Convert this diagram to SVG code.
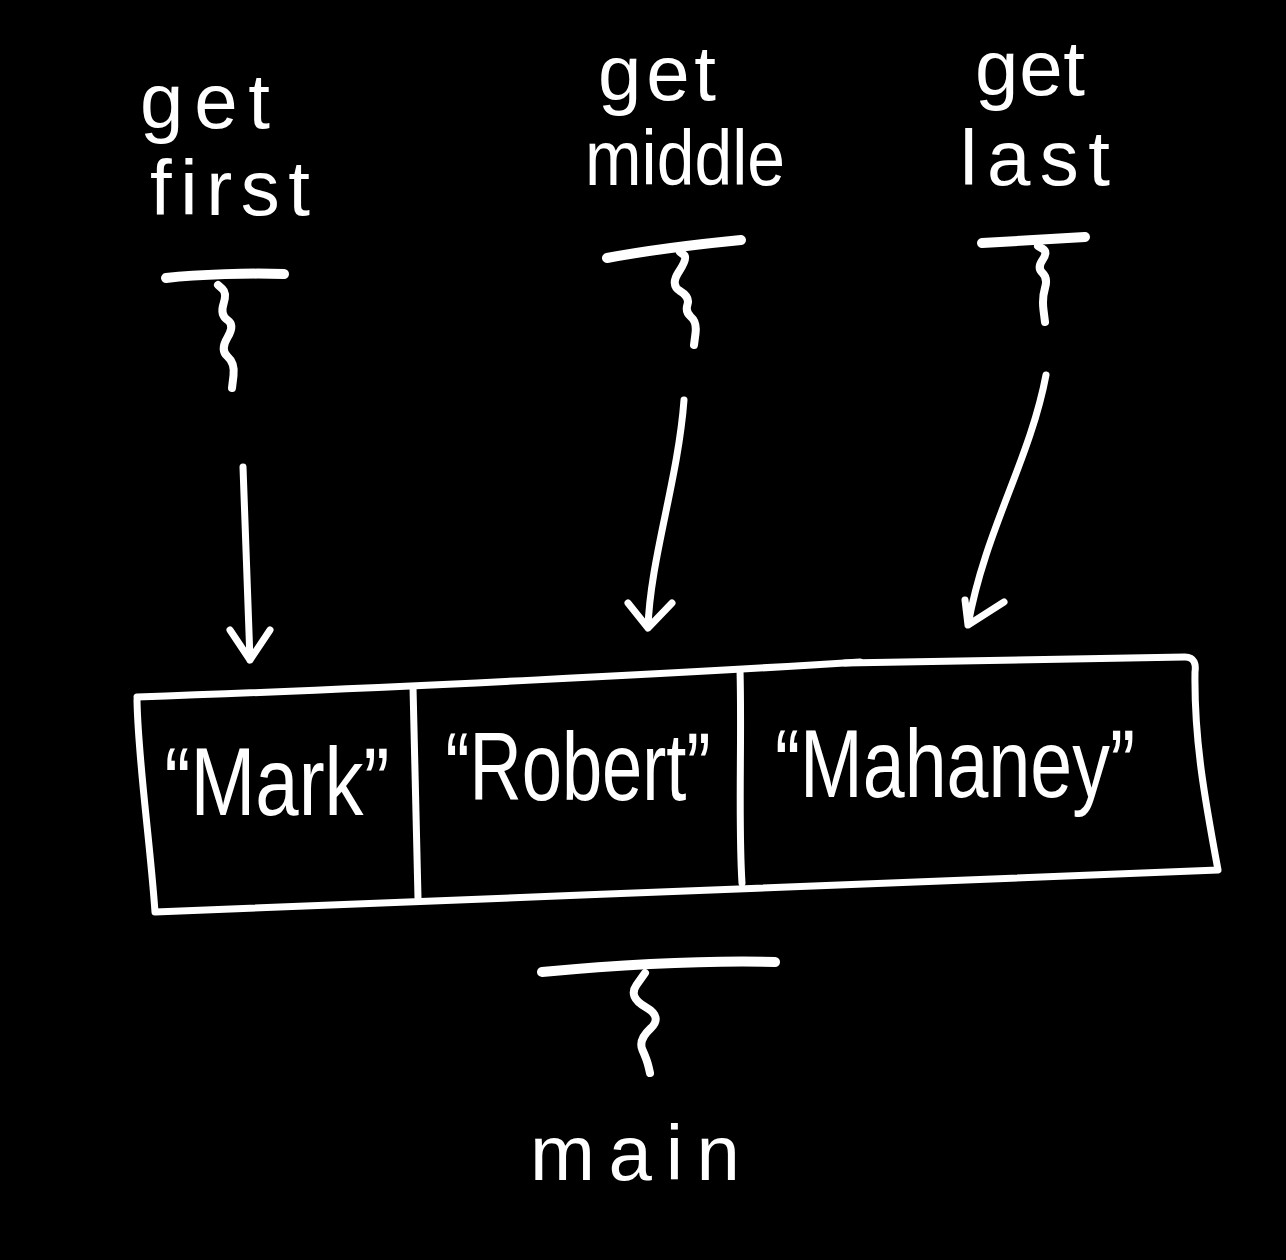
<svg xmlns="http://www.w3.org/2000/svg" width="1286" height="1260" viewBox="0 0 1286 1260">
<style>
.s{fill:none;stroke:#fff;stroke-width:7;stroke-linecap:round;stroke-linejoin:round}
.w{fill:none;stroke:#fff;stroke-width:8;stroke-linecap:round;stroke-linejoin:round}
.b{fill:none;stroke:#fff;stroke-width:10;stroke-linecap:round;stroke-linejoin:round}
.t{fill:#fff;font-family:"Liberation Sans",Arial,sans-serif;font-size:78px}
.c{fill:#fff;font-family:"Liberation Sans",Arial,sans-serif;font-size:96px}
</style>
<rect width="1286" height="1260" fill="#000"/>
<g id="first">
<text class="t" x="205" y="128" text-anchor="middle" textLength="130">get</text>
<text class="t" x="230" y="215" text-anchor="middle" textLength="160">first</text>
<path class="b" d="M166,278 C200,274 250,273 284,274"/>
<path class="w" d="M218,285 L222.5,289 Q227,293 223.5,304 Q220,315 227.5,320 Q235,325 227.5,337.5 Q220,350 227.5,356.5 Q235,363 233.5,375.5 L232,388"/>
</g>
<g id="middle">
<text class="t" x="657" y="100" text-anchor="middle" textLength="118">get</text>
<text class="t" x="685" y="185" text-anchor="middle" textLength="200" lengthAdjust="spacingAndGlyphs">middle</text>
<path class="b" d="M607,258 C650,250 700,244 741,240"/>
<path class="w" d="M680,252 L684,255 Q688,258 679,271.5 Q670,285 680,291 Q690,297 687.5,304.5 Q685,312 691,317 Q697,322 695.5,333.5 L694,345"/>
</g>
<g id="last">
<text class="t" x="1030" y="95" text-anchor="middle" textLength="110">get</text>
<text class="t" x="1035" y="185" text-anchor="middle" textLength="150">last</text>
<path class="b" d="M982,243 L1085,237"/>
<path class="w" d="M1038,246 L1043,249 Q1048,252 1042.5,260 Q1037,268 1042.5,273 Q1048,278 1045,288 Q1042,298 1043.5,310 L1045,322"/>
</g>
<g id="array">
<path class="s" d="M137,697 C400,688 700,672 860,662"/>
<path class="s" d="M845,663 L1185,657 C1195,657 1196,665 1195,672 C1194,740 1205,800 1218,870 C900,880 500,900 155,912 C150,840 138,760 137,700"/>
<path class="s" d="M413,687 L418,898"/>
<path class="s" d="M740,670 C742,740 738,820 742,883"/>
<text class="c" x="277" y="815" text-anchor="middle" textLength="225" lengthAdjust="spacingAndGlyphs">“Mark”</text>
<text class="c" x="578" y="800" text-anchor="middle" textLength="265" lengthAdjust="spacingAndGlyphs">“Robert”</text>
<text class="c" x="955" y="797" text-anchor="middle" textLength="360" lengthAdjust="spacingAndGlyphs">“Mahaney”</text>
</g>
<g id="main">
<path class="b" d="M542,972 C620,965 700,960 775,962"/>
<path class="w" d="M645,973 L636.5,985 Q628,997 645.5,1007 Q663,1017 650.5,1028.5 Q638,1040 642.5,1050 Q647,1060 648.5,1066.5 L650,1073"/>
<text class="t" x="635" y="1180" text-anchor="middle" textLength="210">main</text>
</g>
<g id="connectors">
<path class="s" d="M243,467 L250,660 M230,630 L250,660 L270,630"/>
<path class="s" d="M684,400 C678,480 650,560 648,628 M628,603 L648,628 L672,603"/>
<path class="s" d="M1046,375 C1030,460 985,530 968,625 M965,600 L968,625 L1004,602"/>
</g>
</svg>
